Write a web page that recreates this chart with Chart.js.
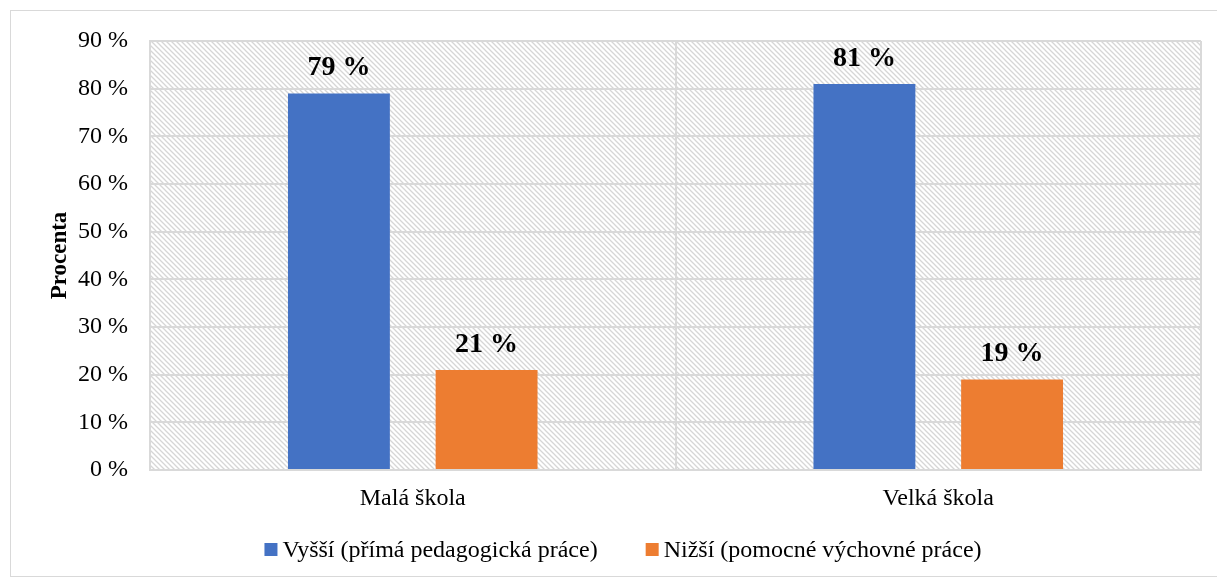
<!DOCTYPE html>
<html><head><meta charset="utf-8">
<script src="https://cdn.jsdelivr.net/npm/chart.js@4"></script>
<style>
html,body{margin:0;padding:0;background:#fff;overflow:hidden}
#wrap{position:absolute;left:0;top:0;width:1217px;height:581px}
#frame{position:absolute;left:10px;top:10px;width:1215px;height:567px;border:1px solid #d9d9d9;box-sizing:border-box}
canvas{position:absolute;left:0;top:0}
</style></head>
<body><div id="wrap"><div id="frame"></div><canvas id="c" width="1217" height="581"></canvas></div>
<script>
const categories = ["Malá škola", "Velká škola"];
const seriesNames = ["Vyšší (přímá pedagogická práce)", "Nižší (pomocné výchovné práce)"];
const higher = [79, 81];
const lower = [21, 19];
const yTicks = [0,10,20,30,40,50,60,70,80,90];
const colors = ['#4472c4','#ed7d31'];

function hatch(){
  const s=5, c=document.createElement('canvas'); c.width=s; c.height=s;
  const g=c.getContext('2d'); g.fillStyle='#fff'; g.fillRect(0,0,s,s);
  g.strokeStyle='#d6d6d6'; g.lineWidth=1.3;
  g.beginPath(); g.moveTo(-1,-1); g.lineTo(s+1,s+1);
  g.moveTo(-1,s-1); g.lineTo(1,s+1); g.moveTo(s-1,-1); g.lineTo(s+1,1); g.stroke();
  return c;
}
const bgPlugin={id:'bg',beforeDraw(ch){const a=ch.chartArea,x=ch.ctx;x.save();x.fillStyle=x.createPattern(hatch(),'repeat');x.fillRect(a.left,a.top,a.right-a.left,a.bottom-a.top);x.restore();}};
const labelPlugin={id:'lbl',afterDatasetsDraw(ch){const x=ch.ctx;x.save();x.font='bold 28px "Liberation Serif"';x.fillStyle='#000';x.textAlign='center';x.textBaseline='alphabetic';
  ch.data.datasets.forEach((d,i)=>{ch.getDatasetMeta(i).data.forEach((b,j)=>{x.fillText(d.data[j]+' %',b.x,b.y-18);});});x.restore();}};
const legendPlugin={id:'leg',afterDraw(ch){const x=ch.ctx;x.save();x.font='24px "Liberation Serif"';x.textBaseline='alphabetic';x.textAlign='left';
  const box=13,gap=5,sp=48,base=557;
  const ws=ch.data.datasets.map(d=>x.measureText(d.label).width);
  const total=ws.reduce((s,w)=>s+box+gap+w,0)+sp*(ws.length-1);
  let cx=623-total/2;
  ch.data.datasets.forEach((d,i)=>{x.fillStyle=d.backgroundColor;x.fillRect(cx,base-box-1,box,box);
    x.fillStyle='#000';x.fillText(d.label,cx+box+gap,base);cx+=box+gap+ws[i]+sp;});
  x.restore();}};

new Chart(document.getElementById('c'),{
  type:'bar',
  data:{labels:categories,datasets:[
    {label:seriesNames[0],data:higher,backgroundColor:colors[0]},
    {label:seriesNames[1],data:lower,backgroundColor:colors[1]}]},
  options:{responsive:false,animation:false,
    layout:{padding:{left:46,top:41,right:16,bottom:0}},
    categoryPercentage:0.562,barPercentage:0.69,
    plugins:{legend:{display:false},tooltip:{enabled:false}},
    scales:{
      x:{grid:{color:'#d9d9d9',lineWidth:2,drawTicks:false},border:{color:'#d9d9d9',width:2},
         afterFit(s){s.height=111;},
         ticks:{color:'#000',padding:14,font:{family:'Liberation Serif',size:24}}},
      y:{min:0,max:90,afterBuildTicks(s){s.ticks=yTicks.map(v=>({value:v}));},
         afterFit(s){s.width=104;},
         grid:{color:'#d9d9d9',lineWidth:2,drawTicks:false},border:{color:'#d9d9d9',width:2},
         title:{display:true,text:'Procenta',color:'#000',font:{family:'Liberation Serif',size:23,weight:'bold'},padding:0},
         ticks:{color:'#000',padding:22,font:{family:'Liberation Serif',size:24},callback:v=>v+' %'}}
    }},
  plugins:[bgPlugin,labelPlugin,legendPlugin]
});
</script></body></html>
